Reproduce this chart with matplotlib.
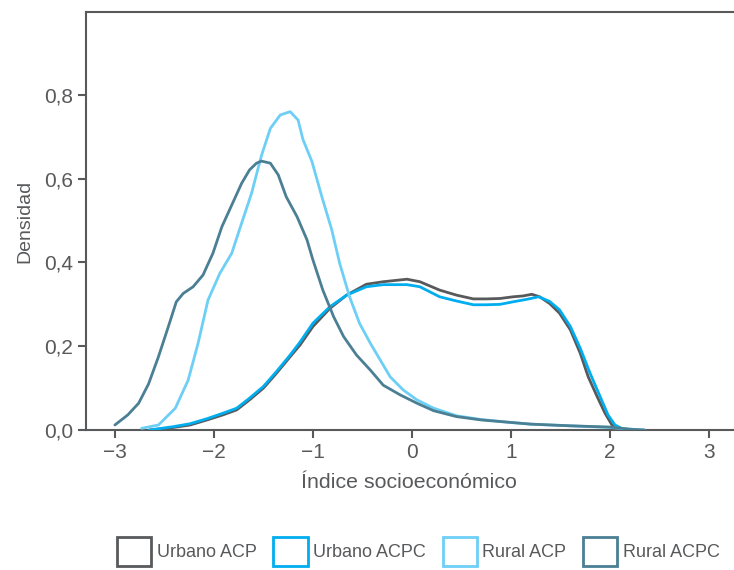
import matplotlib.pyplot as plt
from matplotlib.patches import Patch

plt.rcParams['font.family'] = ['Liberation Sans', 'DejaVu Sans']

# Datos (índice socioeconómico vs densidad)
urb_acp_x = [-2.65, -2.41, -2.24, -2.07, -1.91, -1.77, -1.64, -1.50, -1.37, -1.23,
             -1.13, -1.0, -0.83, -0.66, -0.46, -0.29, -0.05, 0.08, 0.28, 0.45,
             0.62, 0.75, 0.89, 1.02, 1.12, 1.21, 1.29, 1.39, 1.49, 1.60,
             1.70, 1.78, 1.87, 1.95, 2.02, 2.07, 2.12]
urb_acp_y = [0.0, 0.006, 0.012, 0.024, 0.036, 0.048, 0.072, 0.1, 0.135, 0.175,
             0.203, 0.247, 0.29, 0.322, 0.348, 0.354, 0.36, 0.354, 0.334, 0.322,
             0.313, 0.313, 0.314, 0.318, 0.32, 0.324, 0.318, 0.302, 0.279, 0.239,
             0.183, 0.127, 0.08, 0.04, 0.012, 0.006, 0.0]

urb_acpc_x = [-2.65, -2.41, -2.24, -2.07, -1.91, -1.77, -1.64, -1.50, -1.37, -1.23,
              -1.13, -1.0, -0.83, -0.66, -0.46, -0.29, -0.05, 0.08, 0.28, 0.45,
              0.62, 0.75, 0.89, 1.02, 1.16, 1.28, 1.39, 1.49, 1.60, 1.70,
              1.80, 1.90, 1.98, 2.05, 2.10, 2.15]
urb_acpc_y = [0.0, 0.008, 0.015, 0.027, 0.04, 0.052, 0.076, 0.104, 0.139, 0.179,
              0.21, 0.255, 0.294, 0.322, 0.342, 0.347, 0.347, 0.342, 0.318, 0.308,
              0.299, 0.299, 0.3, 0.306, 0.312, 0.318, 0.307, 0.287, 0.247, 0.195,
              0.135, 0.08, 0.036, 0.012, 0.006, 0.0]

rur_acp_x = [-2.73, -2.56, -2.39, -2.26, -2.16, -2.06, -1.94, -1.82, -1.72, -1.62,
             -1.52, -1.43, -1.33, -1.23, -1.15, -1.10, -1.01, -0.91, -0.81, -0.73,
             -0.63, -0.53, -0.42, -0.32, -0.22, -0.09, 0.05, 0.22, 0.45, 0.7,
             1.0, 1.2, 1.6, 2.0, 2.2, 2.35]
rur_acp_y = [0.004, 0.012, 0.052, 0.119, 0.207, 0.31, 0.374, 0.422, 0.494, 0.565,
             0.655, 0.72, 0.752, 0.76, 0.74, 0.693, 0.641, 0.557, 0.478, 0.398,
             0.318, 0.255, 0.207, 0.167, 0.127, 0.096, 0.072, 0.052, 0.034, 0.025,
             0.018, 0.014, 0.01, 0.006, 0.002, 0.0]

rur_acpc_x = [-3.0, -2.87, -2.76, -2.66, -2.56, -2.46, -2.38, -2.31, -2.21, -2.11,
              -2.01, -1.92, -1.82, -1.72, -1.64, -1.57, -1.52, -1.43, -1.35, -1.27,
              -1.16, -1.06, -1.0, -0.90, -0.79, -0.69, -0.56, -0.42, -0.29, -0.12,
              0.05, 0.22, 0.45, 0.7, 1.0, 1.2, 1.6, 2.0, 2.2, 2.35]
rur_acpc_y = [0.012, 0.036, 0.064, 0.11, 0.175, 0.247, 0.306, 0.326, 0.342, 0.37,
              0.422, 0.485, 0.537, 0.589, 0.621, 0.637, 0.642, 0.637, 0.609, 0.557,
              0.509, 0.454, 0.406, 0.334, 0.27, 0.223, 0.179, 0.143, 0.107, 0.084,
              0.064, 0.046, 0.032, 0.024, 0.018, 0.014, 0.01, 0.007, 0.002, 0.0]

series = ['Urbano ACP', 'Urbano ACPC', 'Rural ACP', 'Rural ACPC']
colores = ['#58595b', '#00aeef', '#6dcff6', '#4a7f94']

x_ticks = [-3, -2, -1, 0, 1, 2, 3]
x_labels = ['\u22123', '\u22122', '\u22121', '0', '1', '2', '3']
y_ticks = [0.0, 0.2, 0.4, 0.6, 0.8]
y_labels = ['0,0', '0,2', '0,4', '0,6', '0,8']

fig = plt.figure(figsize=(7.34, 5.70), dpi=100)
ax = fig.add_axes([0.117, 0.2456, 0.8816, 0.7334])

datos = [(urb_acp_x, urb_acp_y), (urb_acpc_x, urb_acpc_y),
         (rur_acp_x, rur_acp_y), (rur_acpc_x, rur_acpc_y)]
orden = [3, 2, 0, 1]
for i in orden:
    xs, ys = datos[i]
    ax.plot(xs, ys, color=colores[i], lw=2.0, solid_capstyle='round',
            solid_joinstyle='round', zorder=3 + i)

ax.set_xlim(-3.293, 3.242)
ax.set_ylim(0, 0.998)
ax.set_xticks(x_ticks)
ax.set_xticklabels(x_labels)
ax.set_yticks(y_ticks)
ax.set_yticklabels(y_labels)

gris = '#58595b'
for lado in ['left', 'bottom', 'top']:
    ax.spines[lado].set_color(gris)
    ax.spines[lado].set_linewidth(1.5)
ax.spines['right'].set_visible(False)
ax.tick_params(colors=gris, labelcolor=gris, labelsize=15, length=6,
               width=1.5, pad=3)

ax.set_xlabel('Índice socioeconómico', fontsize=15.4, color=gris, labelpad=8)
ax.set_ylabel('Densidad', fontsize=14, color=gris, labelpad=8)

handles = [Patch(facecolor='none', edgecolor=c, linewidth=2) for c in colores]
fig.legend(handles, series, loc='center', bbox_to_anchor=(0.570, 0.032), ncol=4,
           frameon=False, fontsize=13, handlelength=1.9, handleheight=2.1,
           handletextpad=0.3, columnspacing=0.93, labelcolor=gris)

fig.savefig('out.png', dpi=100)
